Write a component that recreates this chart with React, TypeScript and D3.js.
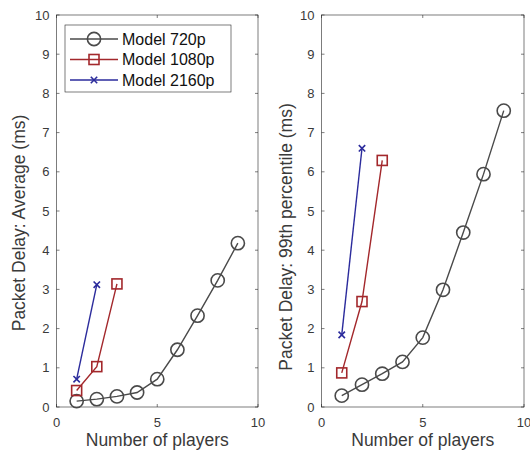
import React, { useEffect, useRef } from "react";
import * as d3 from "d3";

// number of players
const players720 = [1, 2, 3, 4, 5, 6, 7, 8, 9];
const players1080 = [1, 2, 3];
const players2160 = [1, 2];

// average delay (ms)
const avg720 = [0.15, 0.2, 0.27, 0.37, 0.71, 1.46, 2.33, 3.23, 4.18];
const avg1080 = [0.42, 1.03, 3.14];
const avg2160 = [0.71, 3.12];

// 99th percentile delay (ms)
const p99_720 = [0.29, 0.57, 0.85, 1.15, 1.77, 2.99, 4.45, 5.94, 7.56];
const p99_1080 = [0.87, 2.69, 6.29];
const p99_2160 = [1.84, 6.6];

const seriesNames = ["Model 720p", "Model 1080p", "Model 2160p"];
const seriesColors = ["#4a4a4a", "#a3282c", "#2b2b9c"];
const seriesMarkers = ["circle", "square", "cross"];

const yTicks = [0, 1, 2, 3, 4, 5, 6, 7, 8, 9, 10];
const xTicks = [0, 5, 10];

const FONT = "'Liberation Sans', Arial, sans-serif";
const TXT = "#3a3a3a";

function drawMarker(g: any, kind: string, x: number, y: number, color: string) {
  if (kind === "circle") {
    g.append("circle").attr("cx", x).attr("cy", y).attr("r", 6.6)
      .attr("fill", "none").attr("stroke", color).attr("stroke-width", 1.6);
  } else if (kind === "square") {
    g.append("rect").attr("x", x - 5).attr("y", y - 5).attr("width", 10).attr("height", 10)
      .attr("fill", "none").attr("stroke", color).attr("stroke-width", 1.6);
  } else {
    const s = 3.2;
    g.append("path").attr("d", `M${x - s},${y - s}L${x + s},${y + s}M${x - s},${y + s}L${x + s},${y - s}`)
      .attr("stroke", color).attr("stroke-width", 1.6);
  }
}

function drawPanel(svg: any, left: number, right: number, yLabel: string, labelX: number, labelY: number,
  data: number[][], withLegend: boolean) {
  const top = 15, bottom = 407;
  const x = d3.scaleLinear().domain([0, 10]).range([left, right]);
  const y = d3.scaleLinear().domain([0, 10]).range([bottom, top]);
  const g = svg.append("g");

  g.append("rect").attr("x", left).attr("y", top).attr("width", right - left).attr("height", bottom - top)
    .attr("fill", "white").attr("stroke", "#262626").attr("stroke-width", 0.6);

  const tl = 3;
  yTicks.forEach(t => {
    g.append("line").attr("x1", left).attr("x2", left + tl).attr("y1", y(t)).attr("y2", y(t)).attr("stroke", "#262626").attr("stroke-width", 0.6);
    g.append("line").attr("x1", right).attr("x2", right - tl).attr("y1", y(t)).attr("y2", y(t)).attr("stroke", "#262626").attr("stroke-width", 0.6);
    g.append("text").attr("x", left - 7).attr("y", y(t)).attr("dy", "0.36em").attr("text-anchor", "end")
      .attr("font-size", 13).attr("font-family", FONT).attr("fill", TXT).text(t);
  });
  xTicks.forEach(t => {
    g.append("line").attr("x1", x(t)).attr("x2", x(t)).attr("y1", bottom).attr("y2", bottom - tl).attr("stroke", "#262626").attr("stroke-width", 0.6);
    g.append("line").attr("x1", x(t)).attr("x2", x(t)).attr("y1", top).attr("y2", top + tl).attr("stroke", "#262626").attr("stroke-width", 0.6);
    g.append("text").attr("x", x(t)).attr("y", bottom + 20).attr("text-anchor", "middle")
      .attr("font-size", 13).attr("font-family", FONT).attr("fill", TXT).text(t);
  });

  g.append("text").attr("x", (left + right) / 2).attr("y", bottom + 39).attr("text-anchor", "middle")
    .attr("font-size", 17.5).attr("font-family", FONT).attr("fill", TXT).text("Number of players");
  g.append("text").attr("transform", `translate(${labelX},${labelY}) rotate(-90)`)
    .attr("text-anchor", "middle").attr("font-size", 17.5).attr("font-family", FONT).attr("fill", TXT).text(yLabel);

  const xsList = [players720, players1080, players2160];
  const line = d3.line<[number, number]>().x(d => x(d[0])).y(d => y(d[1]));
  data.forEach((vals, i) => {
    const pts: [number, number][] = xsList[i].map((p, j) => [p, vals[j]]);
    g.append("path").attr("d", line(pts)).attr("fill", "none").attr("stroke", seriesColors[i]).attr("stroke-width", 1.4);
    pts.forEach(p => drawMarker(g, seriesMarkers[i], x(p[0]), y(p[1]), seriesColors[i]));
  });

  if (withLegend) {
    const lx = 65, ly = 25, lw = 166, lh = 67;
    g.append("rect").attr("x", lx).attr("y", ly).attr("width", lw).attr("height", lh)
      .attr("fill", "white").attr("stroke", "#262626").attr("stroke-width", 0.6);
    seriesNames.forEach((name, i) => {
      const yy = ly + 14 + i * 20.5;
      g.append("line").attr("x1", lx + 5).attr("x2", lx + 53).attr("y1", yy).attr("y2", yy)
        .attr("stroke", seriesColors[i]).attr("stroke-width", 1.4);
      drawMarker(g, seriesMarkers[i], lx + 29, yy, seriesColors[i]);
      g.append("text").attr("x", lx + 57).attr("y", yy).attr("dy", "0.36em")
        .attr("font-size", 16).attr("font-family", FONT).attr("fill", "#111").text(name);
    });
  }
}

export default function App() {
  const ref = useRef<SVGSVGElement>(null);
  useEffect(() => {
    const svg = d3.select(ref.current);
    svg.selectAll("*").remove();
    drawPanel(svg, 56.5, 258, "Packet Delay: Average (ms)", 25, 223, [avg720, avg1080, avg2160], true);
    drawPanel(svg, 321.5, 524, "Packet Delay: 99th percentile (ms)", 292, 237, [p99_720, p99_1080, p99_2160], false);
  }, []);
  return (
    <svg ref={ref} width={530} height={453} style={{ position: "absolute", left: 0, top: 0, background: "white" }} />
  );
}
